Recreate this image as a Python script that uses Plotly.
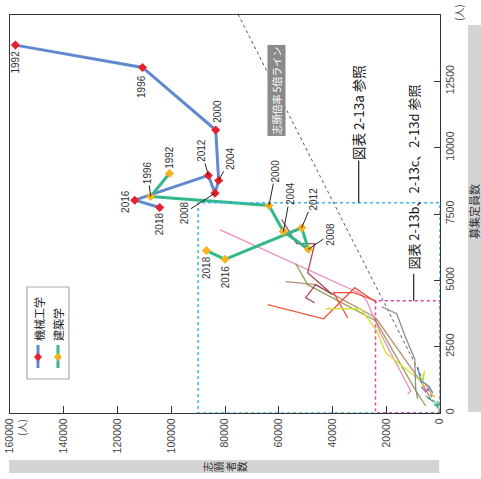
import plotly.graph_objects as go

# ---------------- data ----------------
years = [1992, 1996, 2000, 2004, 2008, 2012, 2016, 2018]

mech_applicants = [158000, 110700, 83460, 82350, 83720, 86180, 113600, 104300]
mech_capacity = [13865, 13023, 10665, 8765, 8285, 8954, 8021, 7745]

arch_applicants = [100690, 107650, 63630, 58270, 48970, 51460, 80000, 86920]
arch_capacity = [9029, 8160, 7820, 6838, 6170, 6978, 5792, 6120]

# other faculties (thin lines)
pink_app = [81970, 29510, 27280, 22070, 10900, 12020]
pink_cap = [6914, 4496, 4231, 2985, 831, 718]
red1_app = [64100, 43300, 31740, 23560]
red1_cap = [4080, 3551, 4723, 4156]
red2_app = [34350, 39590, 32140, 23930]
red2_cap = [3589, 4534, 4534, 4231]
tan_app = [57420, 46290, 23930, 6070, 3460]
tan_cap = [4949, 4836, 3589, 1020, 529]
olive_app = [53700, 49260, 23930, 9410, 5320]
olive_cap = [5629, 4836, 3476, 907, 264]
rose_app = [58900, 53320, 46620, 49230, 39930, 46250, 49970, 46620]
rose_cap = [7292, 6385, 6385, 5289, 4458, 4836, 4345, 4156]
yellow_app = [42550, 29510, 23560, 20210, 7180, 5690, 6810]
yellow_cap = [3929, 3929, 3098, 2267, 1209, 1587, 907]
gray_app = [21690, 16110, 12760, 9410, 9040, 8300]
gray_cap = [4005, 3740, 2834, 2040, 907, 529]
blue_app = [8300, 7180, 4205, 2716]
blue_cap = [1738, 1209, 1020, 756]
orange_app = [5321, 3460, 1972]
orange_cap = [1133, 756, 604]
purple_app = [6810, 5321, 4205]
purple_cap = [982, 793, 945]
teal_app = [5321, 2344, 856]
teal_cap = [642, 416, 302]

ratio5_app = [0, 75000]
ratio5_cap = [0, 15000]

x_ticks = [0, 20000, 40000, 60000, 80000, 100000, 120000, 140000, 160000]
y_ticks = [0, 2500, 5000, 7500, 10000, 12500, 15000]

FONT = "Liberation Sans, Arial, Noto Sans CJK JP"
JP = "Noto Sans CJK JP, Liberation Sans"

fig = go.Figure()

fig.add_trace(go.Scatter(x=ratio5_app, y=ratio5_cap, mode="lines",
                         line=dict(color="#555", width=1, dash="dot"), hoverinfo="skip"))

thin = [
    (pink_app, pink_cap, "#f08cbe"),
    (tan_app, tan_cap, "#b98d76"),
    (olive_app, olive_cap, "#97a05c"),
    (rose_app, rose_cap, "#a8485e"),
    (red1_app, red1_cap, "#f0583a"),
    (red2_app, red2_cap, "#f04c36"),
    (yellow_app, yellow_cap, "#d6e22c"),
    (gray_app, gray_cap, "#8c8c8c"),
    (blue_app, blue_cap, "#3f86d6"),
    (orange_app, orange_cap, "#f5a23c"),
    (purple_app, purple_cap, "#9a5cc0"),
]
for xs, ys, c in thin:
    fig.add_trace(go.Scatter(x=xs, y=ys, mode="lines", line=dict(color=c, width=1.3)))
fig.add_trace(go.Scatter(x=teal_app, y=teal_cap, mode="lines+markers",
                         line=dict(color="#1aa86c", width=1.3),
                         marker=dict(symbol="cross", size=[1, 1, 7], color="#1aa86c")))

fig.add_trace(go.Scatter(x=mech_applicants, y=mech_capacity, mode="lines+markers",
                         line=dict(color="#6189cf", width=3),
                         marker=dict(symbol="diamond", size=7, color="#e8202a")))
fig.add_trace(go.Scatter(x=arch_applicants, y=arch_capacity, mode="lines+markers",
                         line=dict(color="#33b88a", width=3),
                         marker=dict(symbol="diamond", size=7, color="#f7b21c")))

# reference boxes
fig.add_shape(type="rect", x0=0, x1=90000, y0=0, y1=7920, xref="x", yref="y",
              line=dict(color="#38b4ea", width=1.5, dash="dot"))
fig.add_shape(type="rect", x0=0, x1=24000, y0=0, y1=4230, xref="x", yref="y",
              line=dict(color="#e0449e", width=1.5, dash="dot"))
# leader lines for reference texts
fig.add_shape(type="line", x0=30250, x1=30250, y0=7920, y1=9520, xref="x", yref="y",
              line=dict(color="#222", width=1.2))
fig.add_shape(type="line", x0=9790, x1=9790, y0=4230, y1=5250, xref="x", yref="y",
              line=dict(color="#222", width=1.2))

# gray title bars
fig.add_shape(type="rect", xref="paper", yref="paper", x0=-0.002, x1=0.998, y0=-0.151, y1=-0.118,
              fillcolor="#d4d4d4", line=dict(width=0), layer="below")
fig.add_shape(type="rect", xref="paper", yref="paper", x0=1.065, x1=1.1, y0=0.0025, y1=0.975,
              fillcolor="#d4d4d4", line=dict(width=0), layer="below")

# custom legend
fig.add_shape(type="rect", xref="paper", yref="paper", x0=0.0395, x1=0.137, y0=0.0854, y1=0.3166,
              line=dict(color="#aaa", width=1.2), fillcolor="white")
for xp, lc, mc in [(0.0651, "#6189cf", "#e8202a"), (0.1116, "#33b88a", "#f7b21c")]:
    fig.add_shape(type="line", xref="paper", yref="paper", x0=xp, x1=xp, y0=0.113, y1=0.171,
                  line=dict(color=lc, width=3))
    dx, dy, yc = 0.0093, 0.0105, 0.1407
    fig.add_shape(type="path", xref="paper", yref="paper",
                  path=f"M {xp-dx},{yc} L {xp},{yc+dy} L {xp+dx},{yc} L {xp},{yc-dy} Z",
                  fillcolor=mc, line=dict(width=0))

ann = []
def lab(text, x, y, **kw):
    d = dict(text=text, x=x, y=y, xref="x", yref="y", textangle=-90, showarrow=False,
             xanchor="center", yanchor="middle",
             font=dict(family=FONT, size=10, color="#333"))
    d.update(kw)
    ann.append(d)

def arrowlab(text, x, y, ax, ay):
    lab(text, x, y, showarrow=True, ax=ax, ay=ay, arrowhead=0, arrowwidth=1,
        arrowcolor="#222", standoff=0, startstandoff=0)

def paper_text(text, x, y, size, color="#333", **kw):
    d = dict(text=text, x=x, y=y, xref="paper", yref="paper", textangle=-90,
             showarrow=False, xanchor="center", yanchor="middle",
             font=dict(family=JP, size=size, color=color))
    d.update(kw)
    ann.append(d)

# mechanical engineering labels
m_off = {1992: (0, -17), 1996: (-1, -19), 2000: (1, 19), 2016: (-10, -1), 2018: (0, -16)}
m_arr = {2004: (12, -22), 2008: (-31, 20), 2012: (-7, -25)}
for i, yr in enumerate(years):
    if yr in m_off:
        lab(str(yr), mech_applicants[i], mech_capacity[i], xshift=m_off[yr][0], yshift=m_off[yr][1])
    else:
        arrowlab(str(yr), mech_applicants[i], mech_capacity[i], *m_arr[yr])
a_off = {1992: (0, 16), 2016: (0, -18), 2018: (0, -17)}
a_arr = {1996: (-3, -24), 2000: (7, -35), 2004: (7, -38), 2008: (22, -15), 2012: (12, -29)}
for i, yr in enumerate(years):
    if yr in a_off:
        lab(str(yr), arch_applicants[i], arch_capacity[i], xshift=a_off[yr][0], yshift=a_off[yr][1])
    else:
        arrowlab(str(yr), arch_applicants[i], arch_capacity[i], *a_arr[yr])

# reference texts
lab("図表 2-13a 参照", 30250, 11334, font=dict(family=JP, size=13.5, color="#111"))
lab("図表 2-13b、2-13c、2-13d 参照", 9790, 8900, font=dict(family=JP, size=13, color="#111"))
lab("志願倍率 5倍ライン", 60950, 12165, bgcolor="#8a8a8a", borderpad=1,
    font=dict(family=JP, size=10, color="white"))
# legend texts
paper_text("機械工学", 0.0674, 0.236, 11, "#222")
paper_text("建築学", 0.1116, 0.2236, 11, "#222")
# axis titles (vertical writing, rotated)
for k, ch in enumerate("志願者数"):
    px = 207.5 + 11.3 * k
    paper_text(ch, (px - 10) / 430, -0.1345, 10.5)
paper_text("募集定員数", 1.079, 0.5075, 11)
# units
paper_text("(人)", 0.0279, -0.035, 10, "#444")
paper_text("(人)", 1.042, 1.005, 10, "#444")

fig.update_layout(
    width=481, height=479,
    margin=dict(l=10, r=41, t=15, b=66, autoexpand=False),
    paper_bgcolor="white", plot_bgcolor="white",
    showlegend=False,
    annotations=ann,
    xaxis=dict(range=[160000, 0], tickvals=x_ticks, ticktext=[str(v) for v in x_ticks],
               tickangle=-90, ticks="inside", ticklen=7, tickcolor="#333", showgrid=False,
               zeroline=False, showline=True, mirror=True, linecolor="#333", linewidth=1.3,
               automargin=False,
               tickfont=dict(family=FONT, size=10.5, color="#444")),
    yaxis=dict(range=[0, 15000], tickvals=y_ticks, ticktext=[str(v) for v in y_ticks],
               side="right", tickangle=-90, ticks="inside", ticklen=6, tickcolor="#333",
               showgrid=False, zeroline=False, showline=True, mirror=True, linecolor="#333",
               linewidth=1.3, automargin=False,
               tickfont=dict(family=FONT, size=10.5, color="#444")),
)

fig.write_html("out.html", config={"displayModeBar": False},
               post_script="document.body.style.margin='0';document.body.style.overflow='hidden';")
